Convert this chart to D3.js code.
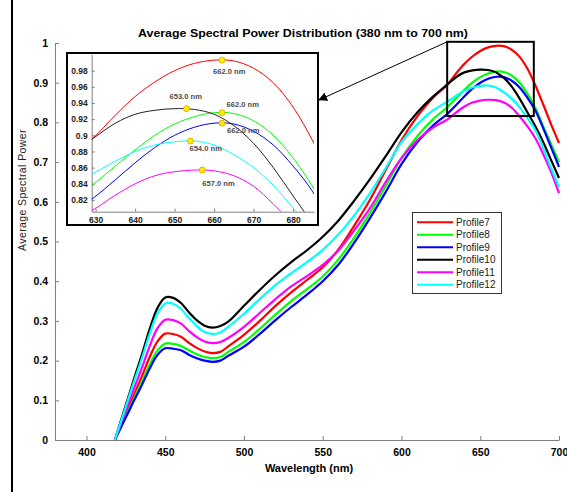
<!DOCTYPE html>
<html><head><meta charset="utf-8">
<script src="https://cdn.jsdelivr.net/npm/d3@7"></script>
<style>
body{margin:0;background:#fff;}
svg{display:block;}
text{font-family:"Liberation Sans",Arial,sans-serif;}
</style>
</head><body>
<svg id="chart" width="567" height="492"></svg>
<script>
// ---------------- data ----------------
const wavelengths = [418,422,426,430,435,440,445,450,455,460,465,470,475,480,485,490,500,510,520,530,540,550,560,570,580,590,600,610,620,629,635,640,645,650,655,660,665,670,675,680,685,690,695,700];
const profile7  = [0,0.038,0.076,0.113,0.159,0.208,0.248,0.268,0.267,0.26,0.245,0.232,0.223,0.219,0.222,0.236,0.265,0.3,0.338,0.372,0.403,0.435,0.48,0.54,0.605,0.68,0.755,0.815,0.862,0.895,0.925,0.948,0.966,0.98,0.989,0.993,0.992,0.983,0.965,0.935,0.893,0.845,0.795,0.748];
const profile8  = [0,0.034,0.069,0.103,0.145,0.189,0.225,0.243,0.242,0.237,0.226,0.216,0.209,0.206,0.209,0.222,0.247,0.28,0.316,0.35,0.38,0.412,0.455,0.51,0.572,0.64,0.71,0.765,0.808,0.838,0.862,0.882,0.9,0.914,0.923,0.928,0.927,0.918,0.9,0.872,0.836,0.79,0.745,0.70];
const profile9  = [0,0.033,0.065,0.098,0.137,0.179,0.214,0.231,0.23,0.226,0.215,0.206,0.2,0.197,0.2,0.212,0.235,0.267,0.302,0.335,0.366,0.4,0.442,0.497,0.559,0.625,0.695,0.75,0.792,0.821,0.845,0.866,0.885,0.9,0.91,0.915,0.914,0.905,0.888,0.862,0.83,0.785,0.737,0.688];
const profile10 = [0,0.051,0.101,0.152,0.213,0.278,0.332,0.359,0.358,0.345,0.322,0.302,0.288,0.283,0.287,0.298,0.338,0.378,0.415,0.448,0.478,0.512,0.553,0.603,0.657,0.715,0.775,0.825,0.865,0.895,0.915,0.926,0.931,0.933,0.932,0.926,0.912,0.89,0.86,0.825,0.79,0.75,0.705,0.66];
const profile11 = [0,0.043,0.085,0.128,0.18,0.235,0.281,0.303,0.302,0.293,0.275,0.259,0.248,0.244,0.247,0.257,0.285,0.32,0.355,0.387,0.413,0.441,0.478,0.528,0.584,0.65,0.71,0.755,0.787,0.807,0.826,0.84,0.85,0.855,0.857,0.856,0.85,0.837,0.815,0.79,0.76,0.72,0.675,0.622];
const profile12 = [0,0.048,0.097,0.145,0.204,0.266,0.318,0.344,0.343,0.33,0.307,0.287,0.272,0.267,0.271,0.285,0.318,0.355,0.39,0.42,0.448,0.479,0.518,0.566,0.622,0.685,0.75,0.795,0.83,0.852,0.868,0.88,0.888,0.892,0.893,0.888,0.876,0.86,0.838,0.81,0.78,0.735,0.685,0.637];

const seriesNames  = ["Profile7","Profile8","Profile9","Profile10","Profile11","Profile12"];
const seriesValues = [profile7,profile8,profile9,profile10,profile11,profile12];
const seriesColors = ["#ff0000","#00ff00","#0000ff","#000000","#ff00ff","#00ffff"];

const peakWavelengths = [662,662,662,653,657,654];
const peakValues      = [0.993,0.928,0.915,0.933,0.857,0.893];
const peakLabels      = ["662.0 nm","662.0 nm","662.0 nm","653.0 nm","657.0 nm","654.0 nm"];

const xTicks = [400,450,500,550,600,650,700];
const yTicks = [0,0.1,0.2,0.3,0.4,0.5,0.6,0.7,0.8,0.9,1];
const xDomain = [380,700];
const yDomain = [0,1];

const insetXDomain = [629,685.3];
const insetYDomain = [0.8055,1.0];
const insetXTicks = [630,640,650,660,670,680];
const insetYTicks = [0.82,0.84,0.86,0.88,0.9,0.92,0.94,0.96,0.98];
const zoomBoxX = [629,684];
const zoomBoxY = [0.816,1.003];

const titleText = "Average Spectral Power Distribution (380 nm to 700 nm)";
const xLabel = "Wavelength (nm)";
const yLabel = "Average Spectral Power";

// ---------------- layout ----------------
const svg = d3.select("#chart");
const M = {left:55, right:559, top:43, bottom:440};
const x = d3.scaleLinear().domain(xDomain).range([M.left, M.right]);
const y = d3.scaleLinear().domain(yDomain).range([M.bottom, M.top]);

// left page border
svg.append("line").attr("x1",12).attr("x2",12).attr("y1",0).attr("y2",492)
  .attr("stroke","#000").attr("stroke-width",2);

// axes
const fmt = d3.format("~g");
const gx = svg.append("g").attr("transform",`translate(0,${M.bottom})`)
  .call(d3.axisBottom(x).tickValues(xTicks).tickSize(-4).tickSizeOuter(0).tickPadding(9).tickFormat(fmt));
const gy = svg.append("g").attr("transform",`translate(${M.left},0)`)
  .call(d3.axisLeft(y).tickValues(yTicks).tickSize(-4).tickSizeOuter(0).tickPadding(7).tickFormat(fmt));
[gx,gy].forEach(g=>{
  g.select(".domain").attr("stroke","#808080");
  g.selectAll(".tick line").attr("stroke","#808080");
  g.selectAll("text").attr("font-size","10.5px").attr("font-weight","bold").attr("fill","#000")
   .attr("font-family","'Liberation Sans Narrow','Liberation Sans',Arial,sans-serif");
});

// titles
svg.append("text").attr("x",303).attr("y",37).attr("text-anchor","middle")
  .attr("font-size","11px").attr("font-weight","bold").attr("textLength",330).attr("lengthAdjust","spacingAndGlyphs")
  .text(titleText);
svg.append("text").attr("x",309).attr("y",472).attr("text-anchor","middle")
  .attr("font-size","11px").attr("font-weight","bold").text(xLabel);
svg.append("text").attr("transform","translate(26,190) rotate(-90)").attr("text-anchor","middle")
  .attr("font-size","10.5px").attr("letter-spacing","0.4px").attr("fill","#222").text(yLabel);

// main lines
const rows = wavelengths.map((w,i)=>({w,i}));
const line = d3.line().x(d=>x(d.w)).curve(d3.curveCatmullRom.alpha(0.5));
seriesValues.forEach((vals,k)=>{
  svg.append("path").datum(rows)
    .attr("d", line.y(d=>y(vals[d.i])))
    .attr("fill","none").attr("stroke",seriesColors[k]).attr("stroke-width",2.2)
    .attr("stroke-linejoin","round");
});

// zoom box on main chart
svg.append("rect").attr("x",x(zoomBoxX[0])).attr("y",y(zoomBoxY[1]))
  .attr("width",x(zoomBoxX[1])-x(zoomBoxX[0])).attr("height",y(zoomBoxY[0])-y(zoomBoxY[1]))
  .attr("fill","none").attr("stroke","#000").attr("stroke-width",2);

// legend
const lg = svg.append("g");
lg.append("rect").attr("x",412.5).attr("y",212.5).attr("width",89).attr("height",81)
  .attr("fill","#fff").attr("stroke","#333").attr("stroke-width",1);
seriesNames.forEach((n,k)=>{
  const yy = 222.3 + k*12.5;
  lg.append("line").attr("x1",417).attr("x2",453).attr("y1",yy).attr("y2",yy)
    .attr("stroke",seriesColors[k]).attr("stroke-width",2);
  lg.append("text").attr("x",456).attr("y",yy+3.6).attr("font-size","10px").attr("fill","#222").text(n);
});

// ---------------- inset ----------------
const I = {left:91.7, right:314, top:54.5, bottom:211.7};
const ix = d3.scaleLinear().domain(insetXDomain).range([I.left, I.right]);
const iy = d3.scaleLinear().domain(insetYDomain).range([I.bottom, I.top]);
const inset = svg.append("g");
inset.append("rect").attr("x",67).attr("y",53).attr("width",251).attr("height",172)
  .attr("fill","#fff").attr("stroke","#000").attr("stroke-width",2);
svg.append("defs").append("clipPath").attr("id","insetClip").append("rect")
  .attr("x",I.left).attr("y",I.top).attr("width",I.right-I.left).attr("height",I.bottom-I.top);

const gix = inset.append("g").attr("transform",`translate(0,${I.bottom})`)
  .call(d3.axisBottom(ix).tickValues(insetXTicks).tickSize(-3).tickSizeOuter(0).tickPadding(5).tickFormat(fmt));
const giy = inset.append("g").attr("transform",`translate(${I.left},0)`)
  .call(d3.axisLeft(iy).tickValues(insetYTicks).tickSize(-3).tickSizeOuter(0).tickPadding(4).tickFormat(fmt));
[gix,giy].forEach(g=>{
  g.select(".domain").attr("stroke","#808080");
  g.selectAll(".tick line").attr("stroke","#808080");
  g.selectAll("text").attr("font-size","8.5px").attr("font-weight","bold").attr("fill","#222");
});

const iline = d3.line().x(d=>ix(d.w)).curve(d3.curveCatmullRom.alpha(0.5));
const ig = inset.append("g").attr("clip-path","url(#insetClip)");
seriesValues.forEach((vals,k)=>{
  ig.append("path").datum(rows)
    .attr("d", iline.y(d=>iy(vals[d.i])))
    .attr("fill","none").attr("stroke",k===3?"#222":seriesColors[k]).attr("stroke-width",1);
});

// peak markers + labels
const labelOffsets = [[-9,13.5],[4.5,-5.5],[5,9.5],[-17,-10],[0,16],[-1,10.5]];
seriesNames.forEach((n,k)=>{
  const px = ix(peakWavelengths[k]), py = iy(peakValues[k]);
  inset.append("circle").attr("cx",px).attr("cy",py).attr("r",3)
    .attr("fill","#ffee00").attr("stroke","#e0a000").attr("stroke-width",0.8);
  inset.append("text").attr("x",px+labelOffsets[k][0]).attr("y",py+labelOffsets[k][1])
    .attr("font-size","7.6px").attr("font-weight","bold").attr("fill","#4d4d4d").text(peakLabels[k]);
});

// arrow from zoom box to inset
svg.select("defs").append("marker").attr("id","arrowHead").attr("viewBox","0 0 10 10")
  .attr("refX",9).attr("refY",5).attr("markerWidth",9).attr("markerHeight",9)
  .attr("orient","auto").attr("markerUnits","userSpaceOnUse")
  .append("path").attr("d","M0,0 L10,5 L0,10 z").attr("fill","#000");
svg.append("line").attr("x1",x(zoomBoxX[0])).attr("y1",y(zoomBoxY[1]))
  .attr("x2",319).attr("y2",100).attr("stroke","#000").attr("stroke-width",1)
  .attr("marker-end","url(#arrowHead)");
</script>
</body></html>
